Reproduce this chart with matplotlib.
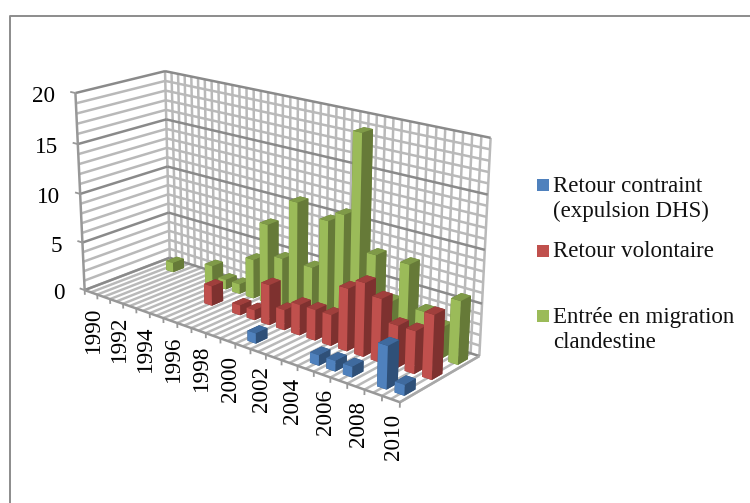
import numpy as np
import matplotlib
matplotlib.use('Agg')
import matplotlib.pyplot as plt
from matplotlib.patches import Rectangle
from mpl_toolkits.mplot3d import proj3d

plt.rcParams['font.family'] = ['Liberation Serif', 'DejaVu Serif']

years = list(range(1990, 2011))
blue_vals = {2001: 1, 2005: 1, 2006: 1, 2007: 1, 2009: 4, 2010: 1}
red_vals = {1996: 2, 1998: 1, 1999: 1, 2000: 4, 2001: 2, 2002: 3, 2003: 3, 2004: 3,
            2005: 6, 2006: 7, 2007: 6, 2008: 4, 2009: 4, 2010: 6}
green_vals = {1991: 1, 1994: 2, 1995: 1, 1996: 1, 1997: 4, 1998: 8, 1999: 5, 2000: 11,
              2001: 5, 2002: 10, 2003: 11, 2004: 19, 2005: 8, 2006: 4, 2007: 8,
              2008: 4, 2009: 3, 2010: 6}
legend_lines = [('Retour contraint', 192), ('(expulsion DHS)', 217), ('Retour volontaire', 257),
                ('Entrée en migration', 323), ('clandestine', 348)]

W, H = 750, 503
fig = plt.figure(figsize=(W/100, H/100), dpi=100, facecolor='white')
ax = fig.add_axes([26.5/W, 38.4/H, 475.8/W, 475.8/H], projection='3d', computed_zorder=False)
ax.set_xlim(0, 21); ax.set_ylim(0, 3); ax.set_zlim(0, 20)
ax.set_axis_off()
ax.patch.set_visible(False)
ax.view_init(elev=18.9850, azim=-49.4355, roll=0.0413)
ax.set_proj_type('persp', focal_length=np.exp(-0.5984))
ax.set_box_aspect((np.exp(0.6479), np.exp(-0.5101), 1.0))

MINOR = '#b9b9b9'; MAJOR = '#8a8a8a'; EDGE = '#989898'
lw = 1.8
def ln(xs, ys, zs, c=MINOR, w=lw, z=1):
    ax.plot(xs, ys, zs, color=c, lw=w, zorder=z, solid_capstyle='butt')

for k in range(0, 43):
    xv = k/2
    ln([xv, xv], [3, 3], [0, 20])
    ln([xv, xv], [0, 3], [0, 0])
for v in range(0, 21):
    c = MAJOR if v % 5 == 0 else MINOR
    z = 2 if v % 5 == 0 else 1
    ln([0, 21], [3, 3], [v, v], c, z=z)
    ln([0, 0], [0, 3], [v, v], c, z=z)
ln([0, 0], [0, 0], [0, 20], EDGE, 1.8, 3)
ln([0, 21], [0, 0], [0, 0], EDGE, 1.8, 3)
ln([21, 21], [0, 3], [0, 0], '#a8a8a8', 1.8, 3)
for k in range(0, 22):
    ln([k, k], [0, 0], [0, -0.5], EDGE, 1.3, 3)
for v in range(0, 21, 5):
    ln([0, -0.4], [0, 0], [v, v], EDGE, 1.3, 3)

BW, BD = 0.55, 0.40
series = [
    (green_vals, 2.5, ('#9bbb59', '#7f9a48', '#667a38')),
    (red_vals, 1.5, ('#c0504d', '#a03f3c', '#7e312f')),
    (blue_vals, 0.5, ('#4f81bd', '#3f6a9e', '#2f5078')),
]
order = 10
for vals, yc, (front, topc, side_c) in series:
    for yr in years:
        if yr not in vals:
            continue
        i = yr - years[0]
        ax.bar3d(i+0.5-BW/2, yc-BD/2, 0, BW, BD, vals[yr], shade=False,
                 color=[side_c, topc, front, side_c, side_c, side_c],
                 zorder=order, linewidth=0)
        order += 1
ax.set_xlim(0, 21); ax.set_ylim(0, 3); ax.set_zlim(0, 20)

PT = 72/100
M = ax.get_proj()
def project(x, y, z):
    px, py, _ = proj3d.proj_transform(np.array([x], float), np.array([y], float), np.array([z], float), M)
    return float(px[0]), float(py[0])

for i, yr in enumerate(years):
    if (yr - years[0]) % 2 == 0:
        ax.annotate(str(yr), xy=project(i+0.5, 0, 0), xycoords='data',
                    xytext=(3*PT, -14.5*PT), textcoords='offset points',
                    rotation=90, ha='center', va='top', fontsize=16.7, color='black',
                    annotation_clip=False, zorder=100)
for v in range(0, 21, 5):
    ax.annotate(str(v), xy=project(0, 0, v), xycoords='data',
                xytext=(-20*PT, -3.5*PT), textcoords='offset points',
                ha='right', va='center', fontsize=16.7, color='black',
                annotation_clip=False, zorder=100)

fig.add_artist(plt.Line2D([9.5/W, 9.5/W, 1], [0, 1-15.5/H, 1-15.5/H], transform=fig.transFigure,
                          color='#8c8c8c', lw=1.4))

def rect(x0, y0, x1, y1, c):
    fig.add_artist(Rectangle((x0/W, 1-y1/H), (x1-x0)/W, (y1-y0)/H, transform=fig.transFigure,
                             facecolor=c, edgecolor='none'))
rect(537, 179, 549, 191, '#4f81bd')
rect(537, 245, 549, 257, '#c0504d')
rect(537, 310, 549, 322, '#9bbb59')
for txt, yb in legend_lines:
    fig.text(553/W, 1-yb/H, txt, fontsize=16.5, va='baseline', ha='left', color='#111111')

fig.savefig('out.png', dpi=100)
